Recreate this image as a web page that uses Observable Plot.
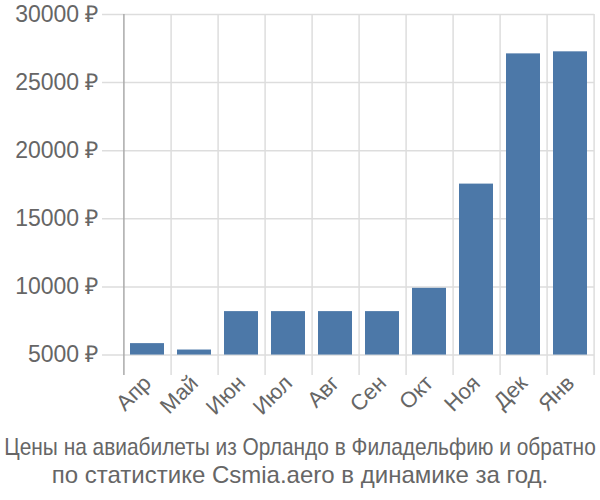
<!DOCTYPE html>
<html>
<head>
<meta charset="utf-8">
<script src="https://cdn.jsdelivr.net/npm/d3@7"></script>
<script src="https://cdn.jsdelivr.net/npm/@observablehq/plot@0.6"></script>
<style>
  body { margin: 0; background: #fff; font-family: "Liberation Sans", Arial, sans-serif; }
  #chart svg { display: block; }
  #caption { display: block; }
</style>
</head>
<body>
<div id="chart"></div>
<svg id="caption" width="600" height="70" font-family="Liberation Sans, Arial, sans-serif" font-size="24" fill="#666" text-anchor="middle">
  <text transform="translate(300,25) scale(0.87,1)" x="0" y="0">Цены на авиабилеты из Орландо в Филадельфию и обратно</text>
  <text x="300" y="53">по статистике Csmia.aero в динамике за год.</text>
</svg>
<script>
const months = ["Апр", "Май", "Июн", "Июл", "Авг", "Сен", "Окт", "Ноя", "Дек", "Янв"];
const prices = [5840, 5370, 8190, 8190, 8190, 8190, 9900, 17550, 27110, 27260];
const yTicks = [5000, 10000, 15000, 20000, 25000, 30000];
const baseline = 5000;
const yDomain = [3500, 30000];

const data = months.map((m, i) => ({month: m, value: prices[i]}));

const W = 600, H = 430, ML = 122, MR = 6;
const halfStep = (W - ML - MR) / months.length / 2;

const chart = Plot.plot({
  width: W,
  height: H,
  marginLeft: ML,
  marginRight: MR,
  marginTop: 14,
  marginBottom: 55,
  style: {fontFamily: "Liberation Sans, Arial, sans-serif", color: "#666", background: "#fff"},
  x: {domain: months, paddingInner: 0.28, paddingOuter: 0.14, label: null},
  y: {domain: yDomain, label: null},
  marks: [
    Plot.ruleY(yTicks, {stroke: "#ddd", strokeWidth: 1.5, insetLeft: -20}),
    Plot.ruleX(months, {x: d => d, dx: halfStep, stroke: "#ddd", strokeWidth: 1.5}),
    Plot.barY(data, {x: "month", y1: baseline, y2: "value", fill: "#4c78a8"}),
    Plot.ruleX([months[0]], {x: d => d, dx: -halfStep, stroke: "#aaa", strokeWidth: 1.5}),
    Plot.axisY({ticks: yTicks, tickSize: 0, tickPadding: 24, tickFormat: d => d + " ₽", fontSize: 23, fill: "#666", label: null}),
    Plot.axisX({tickSize: 0, tickRotate: -45, tickPadding: 4, fontSize: 22, fill: "#666", textAnchor: "end", label: null})
  ]
});
document.getElementById("chart").appendChild(chart);
</script>
</body>
</html>
